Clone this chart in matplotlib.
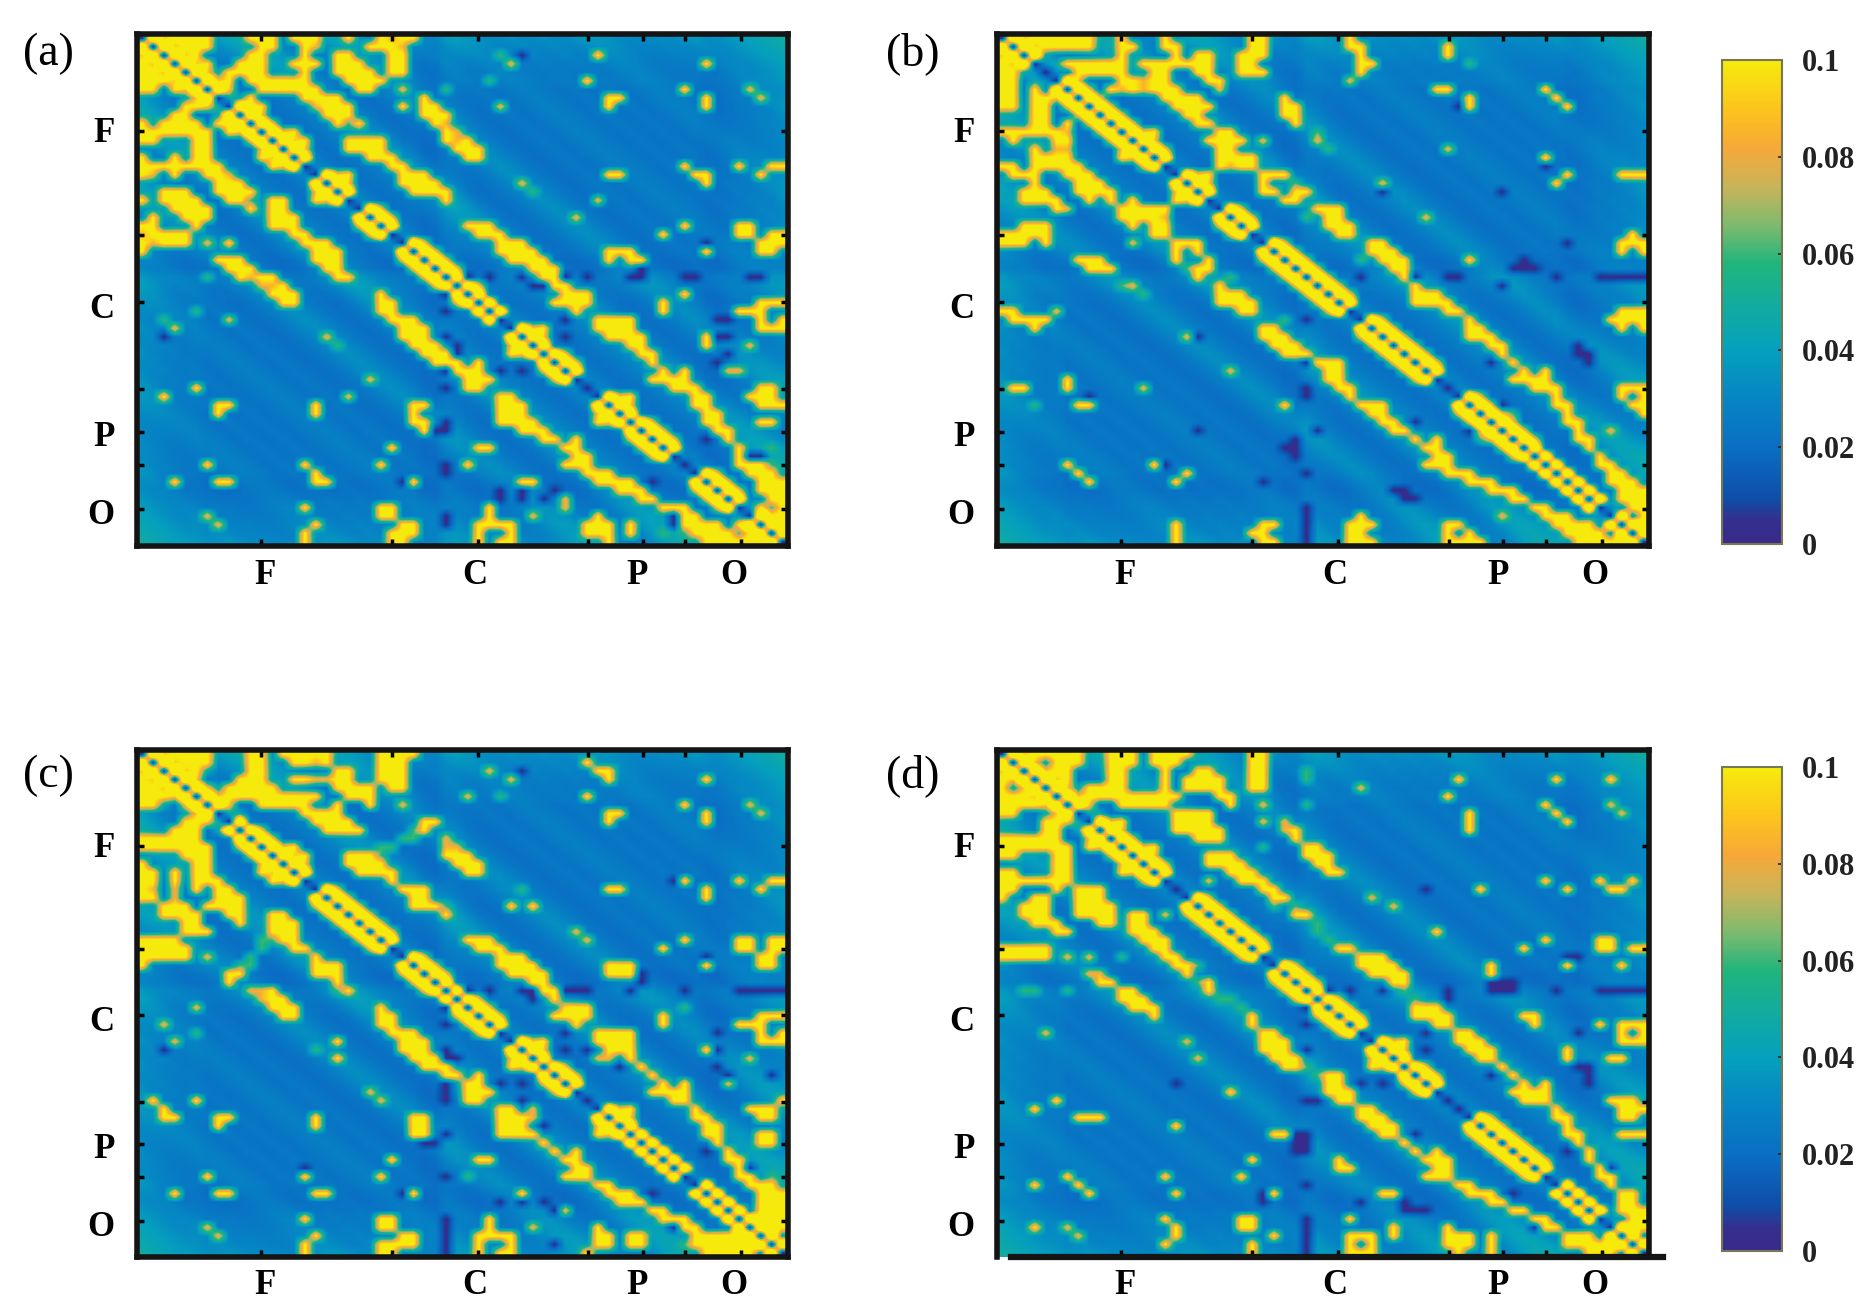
#!/usr/bin/env python3
import numpy as np
import matplotlib
matplotlib.use('Agg')
import matplotlib.pyplot as plt
from matplotlib.colors import LinearSegmentedColormap

plt.rcParams['font.family'] = ['Liberation Serif', 'DejaVu Serif']

N = 60
Y, O, G, T, D = 0.104, 0.085, 0.06, 0.045, 0.002
NEXT_TO_DIAG, SECOND_DIAG = 0.165, 0.092

# electrode groups on the axes
TICKS = [11.4, 23.5, 31.4, 41.6, 46.6, 50.5, 55.7]
XLABEL_POS = [11.8, 31.1, 46.1, 55.0]
YLABEL_POS = [11.2, 31.8, 46.8, 56.0]
GROUP_LABELS = ['F', 'C', 'P', 'O']
CBAR_TICKS = [0, 0.02, 0.04, 0.06, 0.08, 0.1]
CBAR_LABELS = ['0', '0.02', '0.04', '0.06', '0.08', '0.1']

# background level by distance from the diagonal, and extra per electrode
BG_OFFSET = [0, .030, .028, .022, .021, .023, .026, .030, .035, .038, .036, .031, .024, .021, .021,
             .023, .027, .032, .034, .032, .027, .023, .021, .021, .023, .025, .023, .023, .026, .028,
             .027, .025, .023, .023, .025, .023, .023, .025, .023, .023, .026, .028, .028, .026, .023,
             .022, .022, .023, .024, .023, .026, .028, .026, .026, .027, .029, .029, .030, .030, .032]
ELEC_BG = [.009, .007, .005, .003, .002, .002, 0, 0, 0, 0, 0, 0, 0, 0, 0, 0, 0, 0, 0, 0,
           0, 0, 0, 0, 0, 0, -.002, -.002, .003, .003, .001, 0, 0, 0, 0, 0, 0, 0, 0, 0,
           0, 0, 0, 0, 0, 0, 0, 0, 0, 0, 0, 0, -.002, -.002, 0, .002, .003, .005, .006, .008]

# (first row, last row, width) of the bright stretches along the diagonal
NEAR_A = [(0, 9, 2), (9, 15, 2), (12, 15, 3), (16, 19, 3), (20, 23, 2), (24, 31, 2), (31, 33, 1), (34, 37, 3),
          (37, 40, 2), (42, 45, 3), (45, 49, 2), (51, 55, 2), (56, 59, 1)]
NEAR_B = [(0, 3, 2), (5, 15, 2), (16, 19, 3), (20, 23, 2), (24, 32, 2), (33, 40, 2), (42, 49, 2), (49, 55, 1), (56, 59, 1)]
NEAR_C = [(0, 9, 2), (9, 15, 2), (11, 15, 3), (16, 23, 2), (24, 28, 2), (28, 33, 2), (34, 37, 3), (37, 40, 2),
          (42, 45, 3), (45, 50, 1), (51, 59, 1)]
NEAR_D = [(0, 15, 2), (17, 24, 2), (25, 33, 2), (34, 37, 3), (37, 40, 2), (43, 50, 2), (51, 55, 1), (56, 59, 1)]

# (row, first col, last col) of yellow cells above the diagonal
YEL_A = [(0, 1, 6), (0, 10, 12), (0, 14, 16), (0, 19, 19), (0, 22, 25),
         (1, 2, 6), (1, 11, 12), (1, 15, 16), (1, 21, 24),
         (2, 3, 5), (2, 10, 11), (2, 15, 15), (2, 18, 19), (2, 23, 24),
         (3, 4, 6), (3, 9, 11), (3, 14, 16), (3, 18, 20), (3, 23, 23),
         (4, 5, 6), (4, 8, 11), (4, 15, 15), (4, 18, 21), (4, 23, 24),
         (5, 6, 8), (5, 10, 15), (5, 19, 22),
         (6, 7, 8), (6, 11, 16), (6, 20, 21), (6, 24, 24),
         (7, 9, 10), (7, 15, 18), (8, 10, 11), (8, 16, 19), (8, 24, 24), (7, 26, 26), (8, 26, 27), (9, 17, 19),
         (9, 26, 28), (10, 18, 20), (10, 27, 28), (11, 13, 14), (11, 28, 29), (12, 19, 22), (12, 28, 30),
         (13, 19, 22), (13, 29, 31), (14, 21, 23), (14, 30, 31), (15, 23, 24),
         (16, 24, 26), (17, 24, 27), (18, 25, 28), (19, 28, 28), (22, 30, 32), (23, 31, 33),
         (24, 33, 35), (25, 33, 36), (26, 34, 37), (27, 36, 38), (28, 37, 38), (29, 38, 39),
         (30, 39, 41), (31, 38, 41), (32, 40, 40), (33, 42, 45), (34, 42, 45), (35, 43, 46), (36, 45, 46),
         (37, 46, 47), (38, 47, 47), (39, 48, 48), (39, 50, 50), (40, 47, 50), (41, 49, 51),
         (42, 51, 52), (43, 51, 52), (44, 52, 53), (45, 52, 53), (46, 53, 54), (47, 54, 54), (48, 55, 55),
         (49, 55, 57), (50, 55, 57), (51, 56, 58), (52, 57, 59), (53, 57, 59), (54, 58, 59), (55, 57, 59),
         (56, 58, 59), (57, 59, 59),
         (2, 42, 42), (5, 41, 41), (7, 43, 44), (8, 43, 43), (3, 52, 52), (6, 50, 50), (7, 52, 52), (8, 52, 52),
         (15, 50, 50), (16, 51, 52), (17, 52, 52), (15, 55, 55), (16, 57, 57), (15, 58, 59), (16, 43, 44),
         (22, 55, 56), (23, 55, 56), (23, 48, 48), (22, 50, 50), (23, 58, 59), (24, 57, 59), (25, 57, 58),
         (25, 52, 52), (25, 43, 45), (26, 43, 43), (26, 45, 46),
         (31, 48, 48), (32, 48, 48), (30, 50, 50), (32, 55, 56), (31, 57, 59), (34, 57, 59), (32, 57, 57),
         (33, 57, 57), (33, 59, 59), (35, 52, 52), (36, 52, 52), (41, 57, 58), (42, 56, 58), (43, 57, 59),
         (45, 57, 58), (0, 23, 24), (1, 23, 24), (2, 23, 24), (3, 23, 24), (4, 23, 24), (3, 18, 19), (4, 19, 20),
         (5, 20, 21), (0, 11, 11), (1, 11, 11), (2, 11, 11), (3, 11, 11), (2, 18, 18), (4, 24, 24)]
PTS_A = [(0, 23, O), (1, 24, O), (2, 33, G), (3, 34, O), (5, 32, G), (2, 35, D), (6, 28, G), (8, 33, O), (6, 56, O),
         (4, 7, T), (7, 4, T), (7, 9, T), (8, 7, T), (5, 9, .02), (6, 24, O), (8, 16, O), (10, 19, G), (1, 16, O),
         (7, 57, O), (17, 35, O), (18, 36, G), (19, 42, O), (21, 40, O), (10, 28, O), (11, 29, O), (12, 29, O),
         (24, 52, D), (27, 46, D), (28, 41, D), (28, 46, D), (28, 51, D), (28, 56, D), (28, 57, D), (28, 30, D),
         (28, 32, D), (28, 35, D), (29, 37, D), (33, 54, D), (35, 54, D), (37, 54, D), (39, 55, O), (36, 56, O),
         (49, 57, D), (47, 52, D), (52, 47, D), (56, 49, D), (32, 28, D), (35, 28, D), (36, 29, D), (39, 28, D),
         (41, 28, D), (45, 28, D), (46, 27, D), (50, 28, D), (52, 24, D), (56, 28, D), (57, 28, D), (39, 33, D),
         (39, 35, D), (53, 33, D), (53, 35, D), (53, 38, D), (54, 39, O), (48, 58, G), (50, 58, G), (55, 58, G)]

YEL_B = [(0, 2, 8), (0, 11, 11), (0, 15, 15), (0, 23, 24),
         (1, 2, 8), (1, 11, 12), (1, 15, 16), (1, 23, 24),
         (2, 11, 11), (2, 16, 16), (2, 18, 19), (2, 22, 24),
         (3, 6, 10), (3, 13, 16), (3, 17, 19), (3, 18, 19),
         (4, 7, 10), (4, 14, 15), (4, 18, 19), (4, 23, 24), (0, 11, 11), (3, 11, 11), (4, 11, 11),
         (5, 11, 15), (5, 19, 20), (6, 10, 16), (6, 11, 15), (5, 20, 20), (6, 20, 20),
         (7, 15, 18), (7, 26, 26), (8, 16, 19), (8, 26, 27), (9, 17, 18), (9, 26, 27), (10, 18, 19), (10, 27, 27),
         (11, 13, 14), (11, 20, 21), (12, 19, 22), (13, 20, 21), (13, 12, 12), (14, 20, 23), (15, 20, 23),
         (16, 24, 26), (17, 24, 24), (18, 24, 25), (18, 27, 28), (19, 26, 27), (20, 29, 31), (21, 30, 31),
         (22, 30, 32), (23, 31, 32), (24, 34, 35), (25, 34, 36), (26, 35, 37), (27, 36, 37), (28, 37, 37),
         (29, 38, 38), (30, 38, 40), (31, 38, 41), (32, 41, 42), (33, 43, 43), (34, 43, 44), (35, 43, 45),
         (36, 45, 46), (37, 46, 46), (38, 47, 47), (39, 48, 48), (39, 50, 50), (40, 47, 50), (41, 49, 51),
         (42, 51, 51), (43, 51, 52), (44, 52, 52), (45, 52, 53), (46, 53, 53), (47, 53, 54), (48, 54, 54),
         (49, 55, 55), (50, 55, 56), (51, 56, 57), (52, 56, 58), (53, 57, 59), (54, 57, 59), (55, 58, 59),
         (56, 59, 59), (57, 59, 59),
         (0, 32, 32), (1, 32, 33), (2, 33, 33), (3, 33, 34), (4, 33, 33), (1, 41, 41), (2, 41, 41),
         (6, 40, 41), (7, 43, 43), (8, 43, 43), (6, 50, 50), (7, 51, 51), (8, 52, 52), (14, 50, 50),
         (16, 52, 52), (17, 51, 51), (16, 57, 57), (16, 58, 59), (23, 58, 58), (24, 57, 59), (25, 57, 57),
         (25, 59, 59), (26, 43, 43), (32, 57, 59), (33, 56, 59), (34, 57, 57), (34, 59, 59),
         (41, 57, 58), (42, 57, 57), (43, 58, 58), (41, 59, 59), (42, 59, 59), (43, 59, 59), (44, 59, 59),
         (2, 18, 19), (3, 18, 19), (4, 18, 19), (0, 15, 15), (1, 15, 15), (2, 16, 16), (3, 14, 14), (4, 15, 15),
         (2, 22, 23), (3, 22, 23), (4, 22, 23)]
PTS_B = [(5, 32, O), (3, 43, G), (13, 41, O), (15, 50, D), (8, 42, D), (17, 35, O), (18, 35, D), (18, 46, D),
         (21, 39, O), (24, 52, D), (27, 48, D), (27, 49, D), (28, 33, D), (28, 38, D), (28, 42, D), (28, 51, D),
         (12, 24, O), (6, 13, O), (6, 11, O), (15, 21, O), (5, 13, O), (3, 5, T), (2, 4, T), (6, 20, O),
         (28, 56, D), (28, 57, D), (28, 58, D), (28, 59, D), (29, 46, D), (36, 53, D), (37, 54, D), (38, 54, D),
         (46, 56, O), (45, 38, D), (43, 46, D), (46, 43, D), (44, 47, G), (41, 28, D), (46, 29, D), (47, 27, D),
         (48, 26, D), (51, 28, D), (52, 24, D), (53, 37, D), (54, 38, D), (55, 28, D), (56, 28, D), (57, 28, D),
         (58, 28, D), (59, 28, D), (12, 29, O), (11, 29, G), (21, 28, G), (26, 33, G), (17, 27, G), (13, 30, G)]

YEL_C = [(0, 1, 6), (0, 10, 11), (0, 13, 17), (0, 23, 25),
         (1, 2, 6), (1, 11, 11), (1, 14, 17), (1, 22, 24),
         (2, 3, 6), (2, 10, 11), (2, 18, 19), (2, 22, 24),
         (3, 4, 5), (3, 9, 11), (3, 14, 19), (3, 23, 24),
         (4, 5, 6), (4, 8, 12), (4, 18, 20),
         (5, 7, 9), (5, 10, 16), (5, 20, 21), (6, 11, 15), (6, 21, 21), (6, 24, 24),
         (7, 15, 18), (8, 16, 19), (8, 26, 27), (9, 17, 20), (9, 26, 26), (10, 1, 4),
         (12, 19, 21), (13, 19, 22), (14, 20, 23), (15, 23, 23), (12, 28, 30), (13, 29, 31), (14, 30, 31),
         (16, 24, 26), (17, 25, 26), (18, 25, 27), (19, 28, 28), (22, 30, 32), (23, 31, 33),
         (24, 33, 35), (25, 33, 36), (26, 34, 37), (27, 36, 37), (28, 37, 38), (29, 38, 38),
         (30, 39, 41), (31, 38, 41), (32, 40, 40), (33, 42, 45), (34, 42, 45), (35, 43, 45), (36, 45, 45),
         (37, 46, 46), (38, 47, 47), (39, 48, 48), (39, 50, 50), (40, 47, 50), (41, 49, 50), (42, 51, 51),
         (43, 51, 52), (44, 52, 53), (45, 52, 53), (46, 53, 53), (47, 54, 54), (48, 54, 55), (49, 55, 56),
         (50, 55, 56), (51, 56, 58), (52, 57, 59), (53, 57, 59), (54, 57, 59), (55, 57, 59), (56, 58, 59),
         (1, 41, 41), (2, 42, 43), (3, 43, 43), (5, 41, 41), (7, 43, 44), (8, 43, 43), (3, 52, 52), (6, 50, 50),
         (7, 52, 52), (8, 52, 52), (15, 50, 50), (16, 52, 52), (17, 52, 52), (15, 55, 55), (16, 57, 57),
         (15, 58, 59), (16, 43, 44), (18, 34, 34), (18, 36, 36), (22, 55, 56), (23, 55, 56), (23, 48, 48),
         (22, 50, 50), (24, 57, 58), (25, 57, 58), (22, 58, 59), (23, 58, 59), (25, 52, 52), (25, 43, 45),
         (26, 43, 45), (31, 48, 48), (32, 48, 48), (32, 55, 56), (31, 57, 59), (34, 57, 59), (32, 57, 57),
         (33, 57, 57), (33, 59, 59), (35, 52, 52), (41, 59, 59), (42, 56, 58), (43, 57, 58), (45, 57, 58),
         (46, 57, 58), (0, 22, 22), (1, 23, 23), (2, 23, 23), (3, 22, 22), (4, 23, 24), (5, 11, 15), (6, 18, 18),
         (5, 19, 19), (4, 21, 21)]
PTS_C = [(9, 25, G), (10, 25, G), (10, 24, G), (11, 23, G), (11, 22, G), (12, 22, G), (10, 28, O), (11, 28, O),
         (4, 7, T), (7, 4, T), (6, 2, T), (7, 9, T), (8, 7, T), (3, 16, O), (3, 17, O), (1, 16, O), (6, 24, O),
         (11, 29, O), (2, 32, O), (3, 34, O), (2, 35, D), (5, 30, O), (5, 33, G), (6, 56, O), (7, 57, O), (15, 49, D),
         (16, 35, G), (18, 28, G), (21, 40, O), (22, 41, O), (24, 52, D), (26, 46, D), (28, 30, D), (28, 32, D),
         (28, 36, D), (28, 40, D), (28, 41, D), (28, 45, D), (28, 50, D), (28, 55, D), (28, 56, D), (28, 57, D),
         (28, 58, D), (28, 59, D), (30, 50, G), (33, 53, D), (35, 53, D), (37, 53, D), (38, 54, D), (38, 58, D),
         (39, 54, O), (36, 56, O), (35, 39, D), (35, 41, D), (32, 28, D), (35, 28, D), (36, 29, D), (39, 28, D),
         (39, 33, D), (39, 35, D), (41, 28, D), (44, 37, D), (45, 28, D), (46, 27, D), (49, 56, D), (50, 58, G),
         (50, 28, D), (52, 24, D), (53, 33, D), (53, 35, D), (53, 37, D), (54, 39, O), (55, 28, D), (56, 28, D),
         (57, 28, D), (58, 28, D), (59, 28, D), (58, 38, D), (47, 52, D), (56, 49, D), (36, 42, O), (36, 43, O)]

YEL_D = [(0, 1, 7), (0, 10, 12), (0, 14, 17), (0, 23, 24),
         (1, 2, 7), (1, 11, 12), (1, 14, 16), (1, 23, 24),
         (2, 3, 6), (2, 10, 11), (2, 15, 15), (2, 18, 19), (2, 23, 24),
         (3, 4, 6), (3, 10, 11), (3, 15, 15), (3, 18, 20), (3, 23, 24),
         (4, 5, 8), (4, 9, 10), (4, 15, 15), (4, 19, 20), (4, 23, 24),
         (5, 7, 9), (5, 10, 16), (5, 20, 21), (6, 8, 8), (6, 11, 15), (6, 21, 21), (6, 24, 24),
         (7, 9, 9), (7, 16, 19), (8, 10, 11), (8, 16, 19), (8, 24, 24), (8, 26, 26),
         (9, 17, 20), (9, 26, 27), (10, 18, 20), (10, 27, 27), (10, 0, 5), (11, 13, 14), (12, 14, 14),
         (11, 0, 5), (11, 28, 29), (12, 28, 30), (0, 11, 11), (1, 11, 11), (3, 11, 11), (3, 17, 18), (4, 17, 18),
         (13, 29, 30), (14, 30, 31), (12, 19, 21), (13, 19, 22), (14, 21, 23), (15, 22, 24), (16, 24, 25),
         (17, 25, 26), (19, 27, 28), (23, 31, 32), (24, 33, 35), (25, 33, 36), (26, 34, 37), (27, 36, 37),
         (30, 38, 40), (31, 38, 41), (32, 40, 41), (33, 42, 43), (34, 42, 44), (35, 43, 45), (36, 44, 45),
         (37, 46, 46), (38, 47, 47), (39, 48, 48), (39, 50, 50), (40, 47, 50), (41, 48, 50), (42, 51, 51),
         (43, 51, 52), (44, 52, 52), (45, 52, 53), (46, 53, 53), (47, 54, 54), (48, 54, 54), (49, 55, 55),
         (50, 55, 56), (51, 56, 56), (52, 57, 58), (53, 57, 58), (54, 57, 59), (55, 58, 59), (56, 58, 59),
         (3, 42, 42), (5, 41, 41), (7, 43, 43), (8, 43, 43), (9, 43, 43), (3, 51, 51), (6, 50, 50),
         (7, 51, 51), (8, 52, 52), (3, 56, 56), (15, 50, 50), (16, 52, 52), (15, 55, 55), (16, 56, 57), (15, 58, 58),
         (16, 44, 44), (21, 40, 40), (22, 55, 56), (23, 55, 56), (23, 48, 48), (22, 50, 50), (25, 57, 57),
         (23, 58, 59), (25, 52, 52), (25, 45, 45), (26, 45, 45), (31, 48, 49), (32, 49, 49), (32, 55, 55),
         (32, 57, 59), (33, 57, 57), (33, 59, 59), (34, 57, 59), (35, 52, 52), (36, 52, 52), (36, 56, 57), (41, 56, 58),
         (42, 57, 58), (43, 57, 58), (42, 59, 59), (45, 57, 59), (16, 7, 9), (17, 7, 9), (18, 7, 9), (19, 10, 10),
         (23, 0, 4)]
PTS_D = [(3, 28, G), (6, 28, G), (4, 33, O), (6, 56, O), (7, 57, O), (16, 39, D), (17, 34, O), (18, 36, O),
         (1, 4, T), (4, 7, T), (7, 4, T), (7, 9, T), (8, 7, T), (24, 6, O), (24, 8, O), (24, 11, G), (26, 8, O), (26, 9, O),
         (24, 53, D), (27, 46, D), (28, 46, D), (27, 47, D), (28, 47, D), (28, 30, D), (28, 32, D), (28, 35, D),
         (28, 41, D), (28, 51, D), (28, 56, D), (28, 57, D), (28, 58, D), (28, 59, D), (29, 41, D), (33, 39, D),
         (35, 39, D), (35, 28, D), (32, 28, D), (37, 54, D), (38, 54, D), (39, 54, D), (38, 45, D), (39, 33, D),
         (39, 35, D), (39, 16, D), (41, 28, D), (45, 28, D), (46, 28, D), (46, 27, D), (45, 27, D), (47, 52, D),
         (49, 56, D), (52, 47, D), (56, 49, D), (52, 24, D), (51, 28, D), (53, 33, D), (53, 37, D), (54, 38, D),
         (55, 28, D), (56, 28, D), (57, 28, D), (58, 28, D), (59, 28, D), (15, 19, O), (18, 27, G), (18, 25, G),
         (21, 29, G), (20, 29, G), (22, 30, G), (28, 37, G), (29, 38, G), (2, 28, G)]


def build_matrix(near, yel, pts):
    m = np.zeros((N, N))
    for r in range(N):
        for c in range(N):
            m[r, c] = BG_OFFSET[abs(r - c)] + ELEC_BG[r] + ELEC_BG[c]
    for r, c0, c1 in yel:
        for c in range(c0, c1 + 1):
            m[r, c] = m[c, r] = Y
    for r0, r1, w in near:
        for r in range(r0, r1 + 1):
            for c in range(r + 1, min(r + w, r1) + 1):
                if c - r == 1:
                    v = NEXT_TO_DIAG
                elif c - r == 2:
                    v = SECOND_DIAG
                else:
                    v = Y
                m[r, c] = m[c, r] = v
    for r, c, v in pts:
        m[r, c] = m[c, r] = v
    np.fill_diagonal(m, 0.0)
    return m


parula = LinearSegmentedColormap.from_list('parula_like', [
    (0.00, '#3a2a8c'), (0.05, '#33308f'), (0.09, '#0f4da8'), (0.20, '#0a6fc4'), (0.30, '#0685c4'),
    (0.40, '#05a0bd'), (0.50, '#12ad9c'), (0.58, '#20b57c'), (0.66, '#7fba6e'), (0.74, '#c9b45a'),
    (0.82, '#f7a838'), (0.90, '#fcc41c'), (1.00, '#f6ea0c')])

fig = plt.figure(figsize=(18.74, 13.06), dpi=100)
W, H = 1874.0, 1306.0


def add_panel(x0, x1, y0, y1, near, yel, pts, letter, lx, ly):
    ax = fig.add_axes([x0 / W, 1 - y1 / H, (x1 - x0) / W, (y1 - y0) / H])
    im = ax.imshow(build_matrix(near, yel, pts), cmap=parula, vmin=0, vmax=0.1, aspect='auto',
                   interpolation='bilinear', extent=[0, N, N, 0])
    # marks at the group borders, letters on their own positions
    ax.set_xticks(TICKS, minor=True)
    ax.set_yticks(TICKS, minor=True)
    ax.set_xticks(XLABEL_POS)
    ax.set_xticklabels(GROUP_LABELS, fontsize=25, fontweight='bold')
    ax.set_yticks(YLABEL_POS)
    ax.set_yticklabels(GROUP_LABELS, fontsize=25, fontweight='bold')
    ax.tick_params(which='major', length=0, pad=9)
    ax.tick_params(axis='y', which='major', pad=16)
    ax.tick_params(which='minor', direction='in', length=5, width=2.5, top=True, right=True)
    for s in ax.spines.values():
        s.set_linewidth(4)
        s.set_color('#141414')
    fig.text(lx / W, 1 - ly / H, letter, fontsize=33, ha='left', va='center')
    return ax, im


ax_a, im = add_panel(137, 788, 34, 546, NEAR_A, YEL_A, PTS_A, '(a)', 23, 54)
ax_b, _ = add_panel(997, 1649, 34, 546, NEAR_B, YEL_B, PTS_B, '(b)', 886, 54)
ax_c, _ = add_panel(137, 788, 750, 1257, NEAR_C, YEL_C, PTS_C, '(c)', 23, 776)
ax_d, _ = add_panel(997, 1649, 750, 1257, NEAR_D, YEL_D, PTS_D, '(d)', 886, 776)

# panel d has its bottom line shifted to the right in the original
ax_d.spines['bottom'].set_visible(False)
ax_d.plot([0.022, 1.022], [0, 0], color='#141414', lw=4.5, transform=ax_d.transAxes, clip_on=False)

for y0, y1 in [(60, 544), (767, 1251)]:
    cax = fig.add_axes([1722 / W, 1 - y1 / H, 60 / W, (y1 - y0) / H])
    cb = fig.colorbar(im, cax=cax)
    cb.set_ticks(CBAR_TICKS)
    cb.set_ticklabels(CBAR_LABELS, fontsize=22, fontweight='bold')
    cb.ax.tick_params(direction='in', length=3, width=1.2, pad=14, colors='#222222')
    cb.outline.set_linewidth(1.5)
    cb.outline.set_edgecolor('#777755')

fig.savefig('out.png', dpi=100)
